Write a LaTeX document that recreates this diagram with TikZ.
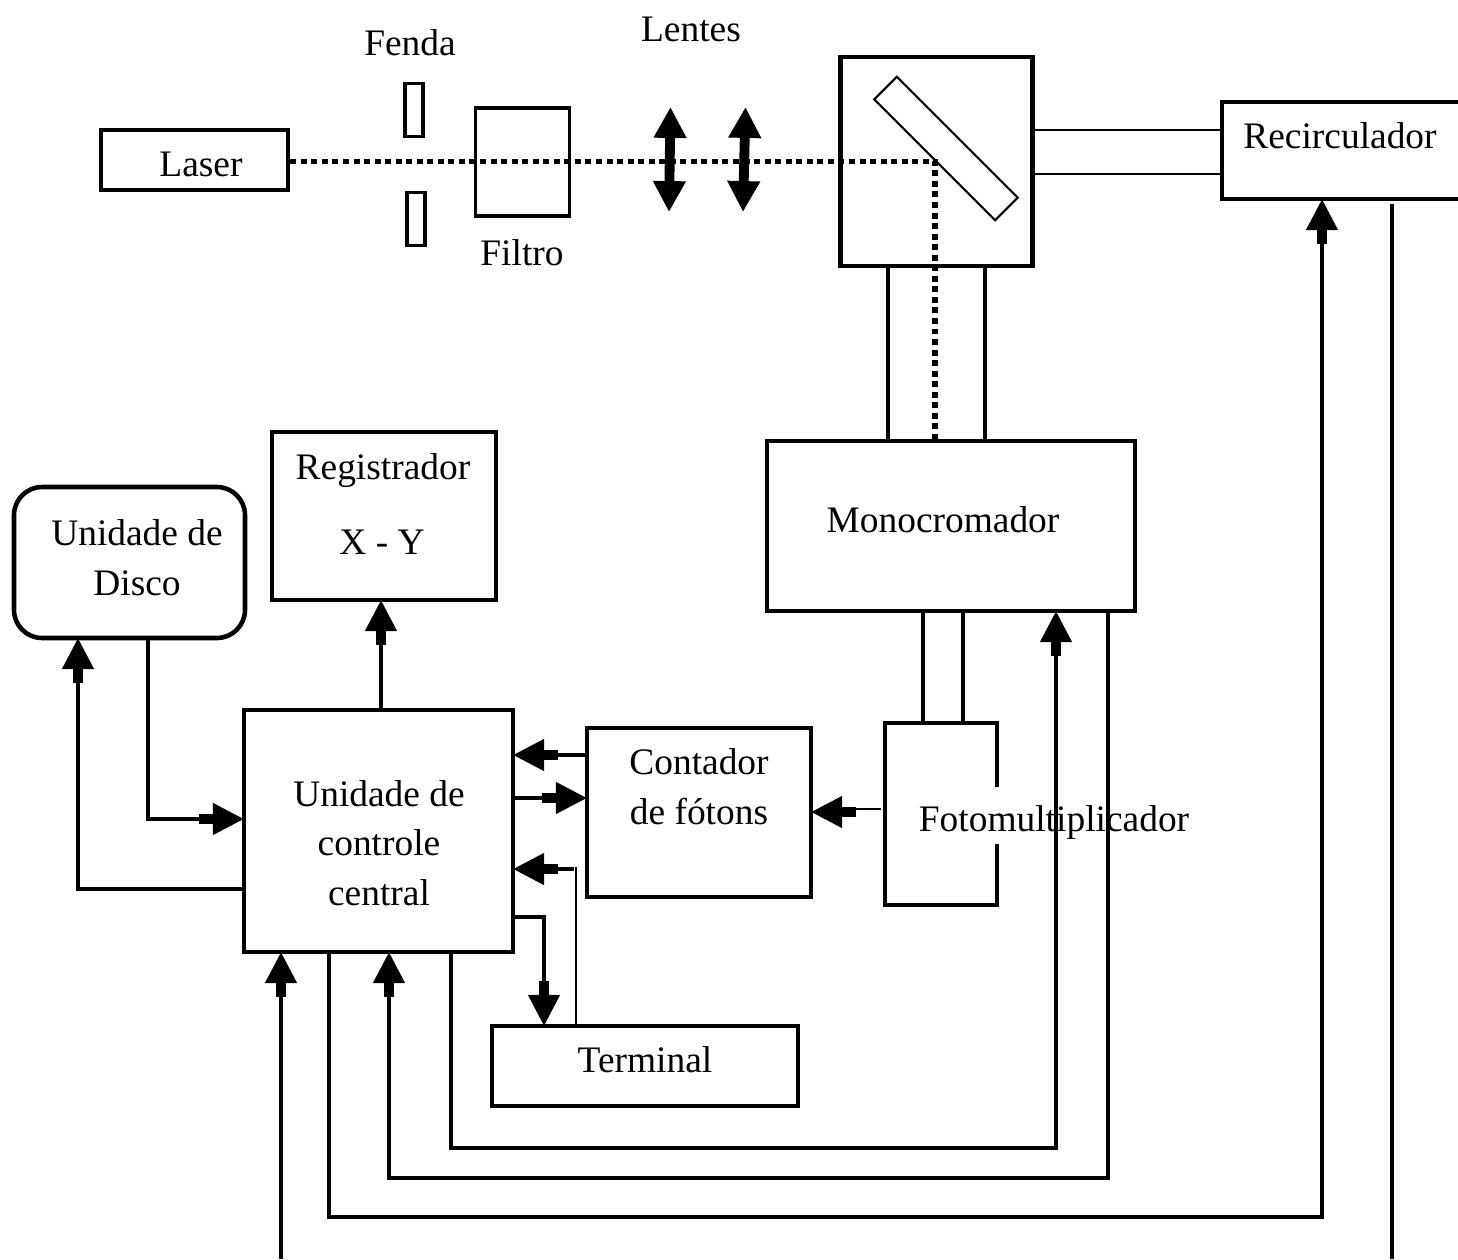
\documentclass[tikz,border=0pt]{standalone}
\usepackage{fontspec}
\setmainfont{Liberation Serif}
\usetikzlibrary{arrows.meta}
\newcommand{\pw}{0.02cm}
\begin{document}
\begin{tikzpicture}[
    x=0.02cm, y=-0.02cm,
    boxsize/.style 2 args={minimum width=#1*\pw, minimum height=#2*\pw},
    box/.style={draw, line width=2.6pt, inner sep=0pt},
    medbox/.style={draw, line width=2pt, inner sep=0pt},
    thinbox/.style={draw, line width=1.2pt, inner sep=0pt},
    lab/.style={font=\fontsize{21.3}{28}\selectfont, anchor=base, align=center, inner sep=0pt},
    wire/.style={line width=2.8pt},
    thinwire/.style={line width=1.1pt},
    arrow/.style={wire, shorten >=-1.2pt, -{Rectangle[length=8pt,width=5.8pt]Triangle[length=17.6pt,width=17.6pt]}},
    lens/.style={line width=5.6pt, {Triangle[length=17.6pt,width=17.6pt]}-{Triangle[length=17.6pt,width=17.6pt]}},
    beam/.style={line width=3.3pt, dash pattern=on 3.4pt off 2.6pt}
    ]

    \useasboundingbox (0,0) rectangle (1458,1259);

    \node[box, boxsize={187}{60}] (laser) at (194.5,160) {};
    \node[medbox, boxsize={18}{53}] (slittop) at (414,110) {};
    \node[medbox, boxsize={18}{53}] (slitbot) at (416,219) {};
    \node[medbox, boxsize={94}{108}] (filtro) at (522.5,162) {};
    \node[box, boxsize={192}{209}] (espelho) at (936.5,161.5) {};
    \node[thinbox, boxsize={171}{32}, rotate=-45] (placa) at (946,148.5) {};
    \node[box, boxsize={240}{97}] (recirc) at (1342,150.5) {};
    \node[box, boxsize={368}{170}] (mono) at (951,526) {};
    \node[box, boxsize={224}{168}] (regist) at (384,516) {};
    \node[box, boxsize={231}{151}, rounded corners=16pt] (disco) at (129.5,562.5) {};
    \node[box, boxsize={269}{242}] (control) at (378.5,831) {};
    \node[box, boxsize={224}{169}] (contador) at (699,812.5) {};
    \node[box, boxsize={306}{80}] (terminal) at (645,1066) {};
    \node[boxsize={112}{182}, outer sep=0pt] (foto) at (941,814) {};

    \node[lab] (fendatxt) at (410,55) {Fenda};
    \node[lab] (lentestxt) at (691,41) {Lentes};
    \node[lab] (filtrotxt) at (522,265) {Filtro};
    \node[lab] (lasertxt) at (201,176) {Laser};
    \node[lab] (recirctxt) at (1340,148) {Recirculador};
    \node[lab] (monotxt) at (943,532) {Monocromador};
    \node[lab] (registtxt) at (383,479) {Registrador};
    \node[lab] (xytxt) at (382,554) {X - Y};
    \node[lab] (discotxt) at (137,595) {Unidade de\\Disco};
    \node[lab] (controltxt) at (379,905) {Unidade de\\controle\\central};
    \node[lab] (contadortxt) at (699,824) {Contador\\de fótons};
    \node[lab] (fototxt) at (1054,831) {Fotomultiplicador};
    \node[lab] (terminaltxt) at (645,1072) {Terminal};

    \coordinate (lensatop) at (670.5,107);
    \coordinate (lensabot) at (669,212);
    \coordinate (lensbtop) at (745.5,107);
    \coordinate (lensbbot) at (743,212);
    \coordinate (desvio) at (935,161.5);
    \coordinate (fotogapa) at (foto.east |- 0,787);
    \coordinate (fotogapb) at (foto.east |- 0,844);
    \coordinate (fotosai) at (881,809);
    \coordinate (fotoseta) at (856,812);
    \coordinate (baixoa) at (281,1259);
    \coordinate (baixob) at (1392,1259);
    \coordinate (recircsai) at (1392,204);

    \draw[beam] (laser.east |- desvio) -- (desvio) -- (desvio |- mono.north);
    \draw[lens] (lensatop) -- (lensabot);
    \draw[lens] (lensbtop) -- (lensbbot);

    \draw[thinwire] (espelho.east |- 0,130) -- (recirc.west |- 0,130);
    \draw[thinwire] (espelho.east |- 0,174) -- (recirc.west |- 0,174);
    \draw[wire] (espelho.south -| 888,0) -- (mono.north -| 888,0);
    \draw[wire] (espelho.south -| 985,0) -- (mono.north -| 985,0);
    \draw[wire] (mono.south -| 923,0) -- (foto.north -| 923,0);
    \draw[wire] (mono.south -| 963,0) -- (foto.north -| 963,0);

    \draw[box] (fotogapa) -- (foto.north east) -- (foto.north west) -- (foto.south west) -- (foto.south east) -- (fotogapb);
    \draw[thinwire] (fotosai) -- (fotosai -| fotoseta);
    \draw[arrow] (fotoseta) -- (contador.east |- fotoseta);

    \draw[arrow] (contador.west |- 0,755) -- (control.east |- 0,755);
    \draw[arrow] (511,798) -- (contador.west |- 0,798);
    \draw[thinwire] (terminal.north -| 576,0) -- (576,867);
    \draw[arrow] (574,869) -- (control.east |- 0,869);
    \draw[arrow] (control.east |- 0,917) -| (terminal.north -| 544,0);

    \draw[arrow] (control.north -| 381,0) -- (regist.south -| 381,0);
    \draw[arrow] (disco.south -| 148,0) |- (control.west |- 0,819);
    \draw[arrow] (control.west |- 0,889) -| (disco.south -| 78,0);

    \draw[arrow] (baixoa) -- (control.south -| 281,0);
    \draw[arrow] (control.south -| 329,0) |- (1322,1217) -- (recirc.south -| 1322,0);
    \draw[arrow] (mono.south -| 1108,0) |- (389,1178) -- (control.south -| 389,0);
    \draw[arrow] (control.south -| 451,0) |- (1056,1148) -- (mono.south -| 1056,0);
    \draw[wire] (baixob) -- (recircsai);

\end{tikzpicture}
\end{document}
